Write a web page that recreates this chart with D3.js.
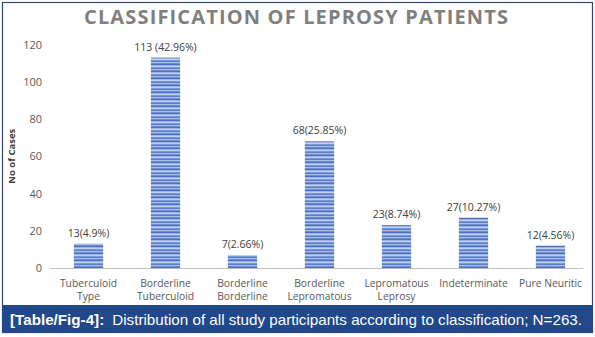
<!DOCTYPE html>
<html lang="en">
<head>
    <title>Classification of leprosy patients</title>
    <script src="https://d3js.org/d3.v7.min.js"></script>
    <style>
        body { margin: 0; background: #fff; }
        text { font-family: "Open Sans", "Noto Sans", sans-serif; }
        .tick text { font-size: 11px; fill: #595959; }
        .caption { font-family: "Liberation Sans", Arial, sans-serif; }
    </style>
</head>
<body>

<script>
    const categories = [
        ["Tuberculoid", "Type"],
        ["Borderline", "Tuberculoid"],
        ["Borderline", "Borderline"],
        ["Borderline", "Lepromatous"],
        ["Lepromatous", "Leprosy"],
        ["Indeterminate"],
        ["Pure Neuritic"]
    ];
    const cases = [13, 113, 7, 68, 23, 27, 12];
    const labels = ["13(4.9%)", "113 (42.96%)", "7(2.66%)", "68(25.85%)", "23(8.74%)", "27(10.27%)", "12(4.56%)"];
    const yTicks = [0, 20, 40, 60, 80, 100, 120];

    const W = 595, H = 337;
    const svg = d3.select("body").append("svg").attr("width", W).attr("height", H);

    // striped bar fill
    const defs = svg.append("defs");
    const pat = defs.append("pattern").attr("id", "stripes")
            .attr("patternUnits", "userSpaceOnUse").attr("width", 10).attr("height", 7);
    const stripeCols = ["#6d8ed3", "#4b72c2", "#9bb2e2", "#c0cfee", "#7b98d8", "#5a7fc9", "#a9bde6"];
    stripeCols.forEach((c, i) => pat.append("rect").attr("x", 0).attr("y", i).attr("width", 10).attr("height", 1).attr("fill", c));

    // frame
    svg.append("rect").attr("x", 2.5).attr("y", 2.5).attr("width", 590).attr("height", 330)
            .attr("fill", "#fff").attr("stroke", "#2e4a72").attr("stroke-width", 1.2);

    const x = d3.scaleBand().domain(d3.range(categories.length)).range([50, 589]).paddingInner(0.62).paddingOuter(0.31);
    const y = d3.scaleLinear().domain([0, 120]).range([268, 44.5]);

    // title
    svg.append("text").attr("x", 296).attr("y", 24).attr("text-anchor", "middle")
            .attr("font-size", 20).attr("font-weight", "bold").attr("fill", "#7f7f7f")
            .attr("textLength", 424).attr("lengthAdjust", "spacing")
            .text("CLASSIFICATION OF LEPROSY PATIENTS");

    // y axis
    const yAxis = svg.append("g").attr("transform", "translate(50,0)")
            .call(d3.axisLeft(y).tickValues(yTicks).tickSize(0).tickPadding(8));
    yAxis.select(".domain").remove();

    svg.append("text").attr("transform", "translate(15," + ((y(0) + y(120)) / 2) + ") rotate(-90)")
            .attr("text-anchor", "middle").attr("font-size", 9.5).attr("font-weight", "bold").attr("fill", "#404040")
            .text("No of Cases");

    // baseline
    svg.append("line").attr("x1", 50).attr("x2", 583).attr("y1", y(0) + 0.5).attr("y2", y(0) + 0.5)
            .attr("stroke", "#bfbfbf").attr("stroke-width", 1);

    // bars
    svg.selectAll(".bar").data(cases).join("rect").attr("class", "bar")
            .attr("x", (d, i) => x(i)).attr("width", x.bandwidth())
            .attr("y", d => y(d)).attr("height", d => y(0) - y(d))
            .attr("fill", "url(#stripes)");

    svg.selectAll(".val").data(cases).join("text").attr("class", "val")
            .attr("x", (d, i) => x(i) + x.bandwidth() / 2).attr("y", d => y(d) - 7)
            .attr("text-anchor", "middle").attr("font-size", 10.5).attr("fill", "#404040")
            .text((d, i) => labels[i]);

    // x labels
    const xl = svg.selectAll(".xl").data(categories).join("text").attr("class", "xl")
            .attr("x", (d, i) => x(i) + x.bandwidth() / 2).attr("y", 287)
            .attr("text-anchor", "middle").attr("font-size", 10.3).attr("fill", "#595959");
    xl.selectAll("tspan").data(d => d).join("tspan")
            .attr("x", function () { return this.parentNode.getAttribute("x"); })
            .attr("dy", (d, i) => i ? 13 : 0).text(d => d);

    // caption bar
    svg.append("rect").attr("x", 2).attr("y", 305).attr("width", 591).attr("height", 28).attr("fill", "#20488a");
    const cap = svg.append("text").attr("class", "caption").attr("x", 10).attr("y", 324.5)
            .attr("font-size", 15).attr("fill", "#fff")
            .attr("textLength", 572).attr("lengthAdjust", "spacingAndGlyphs");
    cap.append("tspan").attr("font-weight", "bold").text("[Table/Fig-4]:");
    cap.append("tspan").attr("dx", 8).text("Distribution of all study participants according to classification; N=263.");
</script>

</body>
</html>
